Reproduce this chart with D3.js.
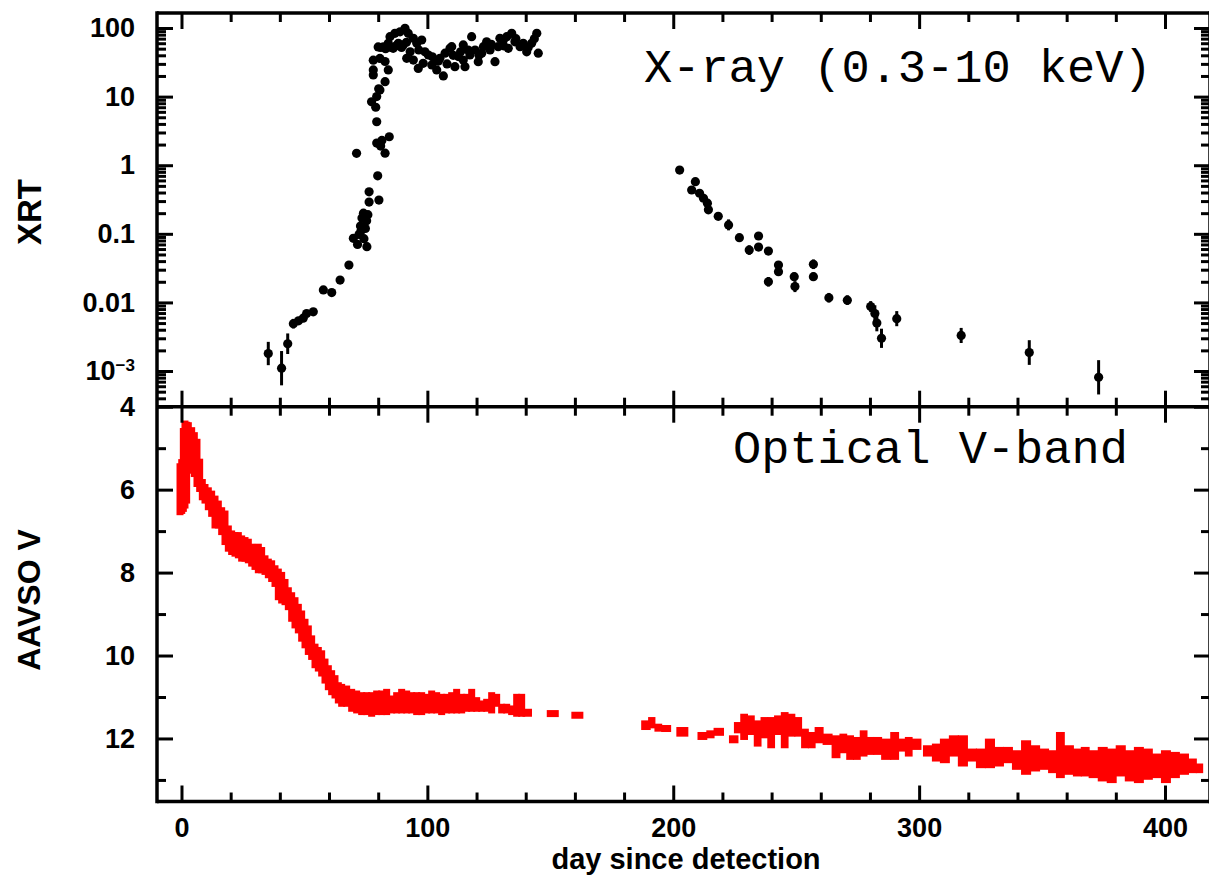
<!DOCTYPE html>
<html><head><meta charset="utf-8">
<script src="https://cdn.jsdelivr.net/npm/d3@7"></script>
<style>body{margin:0;background:#fff}svg{display:block}</style>
</head><body>
<svg id="c" width="1209" height="880"></svg>
<script>
// ---------------- DATA ----------------
// X-ray (XRT) light curve: day, count rate, half error bar (dex)
const xrayDay = [
 35.3,40.7,43.2,45.5,47.6,49.5,50.9,53.6,57.7,61.1,64.5,68.1,69.9,
 71.6,72.2,72.8,73.4,74.0,74.2,74.8,75.3,75.4,73.0,75.8,
 71.2,76.3,76.3,80.3,79.8,79.4,81.5,84.5,82.8,81.0,79.4,77.3,79.4,79.0,80.2,82.8,80.7,
 78.0,80.7,82.8,78.0,78.0,84.1,
 80.0,82.1,84.1,84.8,86.8,88.9,90.9,92.2,88.2,86.1,90.2,94.3,95.7,97.7,91.6,94.3,96.3,98.3,
 100.4,101.8,103.8,106.5,105.1,107.2,109.2,111.2,112.6,114.6,115.3,116.6,118.0,119.4,120.7,
 122.1,124.1,125.5,127.5,128.8,130.9,132.9,134.3,135.6,137.7,140.4,142.4,144.5,145.1,129.5,
 122.8,114.6,109.9,117.3,132.3,139.0,
 81.0,83.0,85.3,87.3,89.5,91.5,93.0,96.5,99.0,102.0,104.5,108.0,110.5,113.5,121.0,126.0,131.0,136.0,141.0,143.5,
 202.6,209.0,207.5,210.7,212.3,213.9,214.3,218.3,222.5,226.9,230.9,234.7,234.7,238.7,238.7,
 242.8,242.8,249.2,249.5,257.0,257.0,263.3,270.8,280.3,282.0,282.8,284.7,290.9,317.1,344.8,373.0
];
const xrayRate = [
 1.8e-3,1.1e-3,2.5e-3,4.9e-3,5.4e-3,5.9e-3,6.9e-3,7.3e-3,0.0152,0.0139,0.0212,0.035,0.086,
 0.070,0.098,0.13,0.17,0.20,0.085,0.12,0.155,0.065,0.11,0.19,
 1.49,0.41,0.29,0.31,0.70,2.1,2.3,2.6,1.5,1.9,4.3,8.4,10.0,7.0,13.0,16.5,12.5,
 34,36,32.5,24.5,20.7,24.5,
 53,53,59.8,74.8,83.6,88,99,83.6,60,50.5,56.6,70.8,60,66.9,36.2,34.1,25.8,30.6,
 40.4,28.9,24.5,20,36.2,42.9,50.5,27.3,38.4,34.1,27.3,47.8,74.8,47.8,32.3,
 42.9,63,47.8,32.3,53.5,66.9,50.5,83.6,63,53.5,45,60,83.6,42.9,70.8,
 53.5,56.6,53.5,40.4,74.8,60,
 52,50,52,55,52,62,45,48,45,38,33,30,40,45,40,58,55,70,52,70,
 0.85,0.575,0.435,0.39,0.33,0.28,0.224,0.18,0.135,0.088,0.058,0.093,0.064,0.056,0.020,
 0.035,0.028,0.0237,0.017,0.036,0.0237,0.0117,0.0108,0.0087,0.0069,0.005,0.003,0.0058,0.0033,0.00186,0.00081
];
const xrayErrDex = [
 0.17,0.25,0.15,0.07,0.05,0.05,0.04,0.04,0.04,0.05,0.03,0.03,0.03,
 0.05,0.04,0.04,0.03,0.03,0.05,0.04,0.03,0.06,0.03,0.03,
 0.03,0.03,0.03,0.04,0.03,0.04,0.03,0.03,0.05,0.03,0.03,0.03,0.03,0.03,0.03,0.03,0.03,
 0.02,0.02,0.02,0.02,0.02,0.02,
 0.02,0.02,0.02,0.02,0.02,0.02,0.02,0.02,0.02,0.02,0.02,0.02,0.02,0.02,0.02,0.02,0.02,0.02,
 0.02,0.02,0.02,0.02,0.02,0.02,0.02,0.02,0.02,0.02,0.02,0.02,0.02,0.02,0.02,
 0.02,0.02,0.02,0.02,0.02,0.02,0.02,0.02,0.02,0.02,0.02,0.02,0.02,0.02,0.02,
 0.02,0.02,0.02,0.02,0.02,0.02,
 0.02,0.02,0.02,0.02,0.02,0.02,0.02,0.02,0.02,0.02,0.02,0.02,0.02,0.02,0.02,0.02,0.02,0.02,0.02,0.02,
 0.02,0.05,0.04,0.04,0.04,0.04,0.04,0.03,0.08,0.04,0.07,0.05,0.05,0.05,0.07,
 0.06,0.06,0.06,0.08,0.07,0.06,0.07,0.07,0.08,0.12,0.12,0.14,0.11,0.11,0.18,0.25
];

// AAVSO V-band: day, brightest and faintest magnitude observed around that day
const optDay = [
 -0.6,0.1,0.75,1.42,2.10,2.78,4.14,5.22,6.30,7.39,8.47,9.56,10.91,12.27,13.63,14.98,16.34,17.69,
 19.05,20.40,21.76,23.12,24.47,25.83,27.18,28.54,29.89,31.25,32.60,33.96,35.32,36.67,38.03,39.38,
 40.74,42.10,43.45,44.81,46.16,47.52,48.87,50.23,51.58,52.94,54.30,55.65,57.01,58.36,59.72,61.07,
 62.43,63.79,65.14,67.18,69.21,71.24,73.28,75.31,77.34,79.38,81.41,83.44,85.48,87.51,89.54,91.58,
 93.61,95.65,97.68,99.71,101.75,103.78,105.81,107.85,109.88,111.91,113.95,115.98,118.02,120.05,
 122.08,124.12,126.15,128.18,130.22,132.25,134.28,136.32,138.35,140.11,151.0,161.0,
 189.4,191.2,193.9,196.7,203.7,212.3,215.0,218.2,225.1,226.1,228.8,231.6,234.3,237.1,239.8,242.6,
 245.3,248.1,250.8,253.6,256.3,259.1,262.8,266.4,269.2,271.9,274.7,277.4,280.2,282.9,286.6,290.3,
 293.0,295.8,298.5,304.0,306.8,310.5,314.1,317.8,321.5,325.1,328.8,332.5,336.1,339.8,343.5,347.2,
 350.8,354.5,357.2,360.9,364.6,367.3,371.0,374.7,378.3,382.0,385.7,389.4,393.0,396.7,400.4,404.0,
 407.7,411.4,414.1
];
const optBright = [
 5.40,5.30,4.55,4.37,4.40,4.41,4.53,4.65,4.81,5.29,5.78,5.90,5.98,6.06,6.18,6.30,6.46,6.54,
 6.90,7.02,7.06,7.06,7.14,7.18,7.22,7.34,7.38,7.34,7.42,7.62,7.70,7.74,7.86,7.94,
 8.02,8.19,8.39,8.51,8.63,8.79,8.95,9.15,9.31,9.55,9.75,9.83,9.91,10.11,10.27,10.39,
 10.51,10.68,10.72,10.76,10.84,10.88,10.92,10.92,10.92,10.88,10.88,10.84,11.00,10.92,10.84,10.88,
 10.92,10.92,10.92,10.96,10.88,10.92,10.96,10.96,10.92,10.84,10.96,10.96,10.84,11.04,
 11.12,11.08,10.92,10.96,11.20,11.20,11.24,10.96,10.96,11.32,11.36,11.40,
 11.60,11.52,11.68,11.72,11.76,11.88,11.84,11.78,11.96,11.64,11.44,11.48,11.60,11.52,11.52,11.48,
 11.40,11.44,11.52,11.80,11.88,11.76,11.92,11.96,11.92,11.96,12.00,11.84,12.00,12.00,12.04,11.88,
 12.04,12.00,12.04,12.20,12.16,12.04,11.96,11.96,12.28,12.28,12.04,12.24,12.24,12.32,12.08,12.20,
 12.28,12.32,11.88,12.20,12.28,12.24,12.32,12.24,12.28,12.20,12.32,12.24,12.28,12.40,12.32,12.36,
 12.40,12.52,12.64
];
const optFaint = [
 6.58,6.55,6.50,6.42,6.30,5.58,5.53,5.66,5.90,6.02,6.22,6.30,6.46,6.62,6.90,6.90,7.06,7.30,
 7.46,7.54,7.58,7.62,7.70,7.70,7.74,7.82,7.90,7.98,7.98,8.02,8.10,8.19,8.31,8.63,
 8.71,8.75,8.87,9.15,9.31,9.43,9.63,9.79,9.95,10.07,10.27,10.35,10.47,10.64,10.80,10.92,
 11.00,11.12,11.20,11.20,11.32,11.36,11.40,11.40,11.44,11.40,11.40,11.40,11.36,11.36,11.36,11.36,
 11.36,11.40,11.40,11.36,11.36,11.36,11.40,11.36,11.36,11.36,11.36,11.32,11.32,11.32,
 11.32,11.32,11.36,11.20,11.36,11.36,11.40,11.44,11.44,11.44,11.44,11.48,
 11.76,11.72,11.80,11.80,11.92,12.00,11.96,11.90,12.08,11.84,12.00,11.88,12.16,11.96,12.20,11.88,
 12.20,11.92,11.92,12.20,12.20,12.08,12.12,12.44,12.32,12.48,12.48,12.40,12.36,12.36,12.48,12.48,
 12.28,12.40,12.24,12.40,12.52,12.56,12.40,12.64,12.52,12.68,12.68,12.64,12.56,12.72,12.84,12.76,
 12.72,12.80,12.92,12.84,12.88,12.88,12.92,13.00,13.04,12.88,13.00,13.04,12.96,12.92,13.04,12.92,
 12.84,12.80,12.80
];

// Axis ticks and labels
const dayTicks = [0,100,200,300,400];
const dayMinorTicks = [20,40,60,80,120,140,160,180,220,240,260,280,320,340,360,380];
const xrayTicks = [100,10,1,0.1,0.01,0.001];
const xrayTickLabels = ["100","10","1","0.1","0.01","10|−3"];
const magTicks = [4,6,8,10,12];
const magMinorTicks = [5,7,9,11,13];
const xrayAxisTitle = "XRT";
const optAxisTitle = "AAVSO V";
const dayAxisTitle = "day since detection";
const xrayNote = "X-ray (0.3-10 keV)";
const optNote = "Optical V-band";

// ---------------- LAYOUT ----------------
const L = 157, R = 1210, T = 13, M = 406.7, B = 801.5;
const sans = "'Liberation Sans', Arial, Helvetica, sans-serif";
const mono = "'Liberation Mono', 'Courier New', monospace";

const svg = d3.select("#c");
const x = d3.scaleLinear().domain([-9.96, 418.3]).range([L, R]);
const yX = d3.scaleLog().domain([3.02e-4, 165.5]).range([M, T]);
const yV = d3.scaleLinear().domain([4, 13.52]).range([M, B]);

const logMinor = [];
for (let e = -4; e <= 2; e++) for (let m = 2; m <= 9; m++) {
  const v = m * Math.pow(10, e);
  if (v > 3.02e-4 && v < 165.5) logMinor.push(v);
}

function drawAxis(gen, tr) {
  const g = svg.append("g").attr("transform", tr).call(gen);
  g.select(".domain").remove();
  g.selectAll(".tick line").attr("stroke", "#000").attr("stroke-width", 3);
  g.selectAll("text").attr("font-family", sans).attr("font-weight", "bold")
    .attr("font-size", 27).attr("fill", "#000");
  return g;
}

// ---- data: optical band ----
const optG = svg.append("g");
optDay.forEach((d, i) => {
  const cx = x(d);
  const lw = i > 0 ? Math.min(Math.max((cx - x(optDay[i - 1])) / 2, 3), 5.5) : 3;
  const rw = i < optDay.length - 1 ? Math.min(Math.max((x(optDay[i + 1]) - cx) / 2, 3), 5.5) : 3;
  let y0 = yV(optBright[i]) - 1.5, y1 = yV(optFaint[i]) + 1.5;
  if (y1 - y0 < 7) { const c = (y0 + y1) / 2; y0 = c - 3.5; y1 = c + 3.5; }
  optG.append("rect").attr("x", cx - lw - 0.5).attr("y", y0).attr("width", lw + rw + 1)
    .attr("height", y1 - y0).attr("fill", "#ff0000");
});

// ---- data: X-ray points ----
const xg = svg.append("g");
xrayDay.forEach((d, i) => {
  const v = xrayRate[i], e = xrayErrDex[i];
  xg.append("line").attr("x1", x(d)).attr("x2", x(d))
    .attr("y1", yX(v * Math.pow(10, e))).attr("y2", yX(v / Math.pow(10, e)))
    .attr("stroke", "#000").attr("stroke-width", 3);
  xg.append("circle").attr("cx", x(d)).attr("cy", yX(v)).attr("r", 4.6).attr("fill", "#000");
});

// ---- axes: ticks ----
drawAxis(d3.axisLeft(yX).tickValues(xrayTicks).tickSize(-16).tickPadding(22)
  .tickFormat((d, i) => xrayTickLabels[i]), `translate(${L},0)`);
drawAxis(d3.axisLeft(yX).tickValues(logMinor).tickSize(-9).tickFormat(""), `translate(${L},0)`);
drawAxis(d3.axisRight(yX).tickValues(xrayTicks).tickSize(-16).tickFormat(""), `translate(${R},0)`);
drawAxis(d3.axisRight(yX).tickValues(logMinor).tickSize(-9).tickFormat(""), `translate(${R},0)`);
drawAxis(d3.axisTop(x).tickValues(dayTicks).tickSize(-16).tickFormat(""), `translate(0,${T})`);
drawAxis(d3.axisTop(x).tickValues(dayMinorTicks).tickSize(-9).tickFormat(""), `translate(0,${T})`);
drawAxis(d3.axisBottom(x).tickValues(dayTicks).tickSize(-16).tickFormat(""), `translate(0,${M})`);
drawAxis(d3.axisBottom(x).tickValues(dayMinorTicks).tickSize(-9).tickFormat(""), `translate(0,${M})`);
drawAxis(d3.axisLeft(yV).tickValues(magTicks).tickSize(-16).tickPadding(22), `translate(${L},0)`);
drawAxis(d3.axisLeft(yV).tickValues(magMinorTicks).tickSize(-9).tickFormat(""), `translate(${L},0)`);
drawAxis(d3.axisRight(yV).tickValues(magTicks).tickSize(-16).tickFormat(""), `translate(${R},0)`);
drawAxis(d3.axisRight(yV).tickValues(magMinorTicks).tickSize(-9).tickFormat(""), `translate(${R},0)`);
drawAxis(d3.axisTop(x).tickValues(dayTicks).tickSize(-16).tickFormat(""), `translate(0,${M})`);
drawAxis(d3.axisTop(x).tickValues(dayMinorTicks).tickSize(-9).tickFormat(""), `translate(0,${M})`);
drawAxis(d3.axisBottom(x).tickValues(dayTicks).tickSize(-16).tickPadding(16.5), `translate(0,${B})`);
drawAxis(d3.axisBottom(x).tickValues(dayMinorTicks).tickSize(-9).tickFormat(""), `translate(0,${B})`);

svg.selectAll("text").filter(function () { return d3.select(this).text() === "10|−3"; })
  .each(function () {
    const t = d3.select(this), parts = t.text().split("|");
    t.text(parts[0]);
    t.append("tspan").attr("dy", "-9").attr("font-size", 17).text(parts[1]);
  });

// ---- frame ----
const frame = svg.append("g").attr("stroke", "#000").attr("stroke-width", 3.5).attr("fill", "none");
frame.append("line").attr("x1", L).attr("x2", L).attr("y1", T - 1.75).attr("y2", B + 1.75);
frame.append("line").attr("x1", R).attr("x2", R).attr("y1", T - 1.75).attr("y2", B + 1.75);
[T, M, B].forEach(yy => frame.append("line").attr("x1", L).attr("x2", R).attr("y1", yy).attr("y2", yy));

// ---- titles ----
svg.append("text").attr("transform", "translate(41,212) rotate(-90)").attr("text-anchor", "middle")
  .attr("font-family", sans).attr("font-weight", "bold").attr("font-size", 33).text(xrayAxisTitle);
svg.append("text").attr("transform", "translate(40,600) rotate(-90)").attr("text-anchor", "middle")
  .attr("font-family", sans).attr("font-weight", "bold").attr("font-size", 32).text(optAxisTitle);
svg.append("text").attr("x", 686).attr("y", 869).attr("text-anchor", "middle")
  .attr("font-family", sans).attr("font-weight", "bold").attr("font-size", 29).text(dayAxisTitle);

svg.append("text").attr("x", 644).attr("y", 82).attr("font-family", mono).attr("font-size", 47)
  .attr("fill", "#000").text(xrayNote);
svg.append("text").attr("x", 733).attr("y", 463).attr("font-family", mono).attr("font-size", 47)
  .attr("fill", "#000").text(optNote);
</script>
</body></html>
